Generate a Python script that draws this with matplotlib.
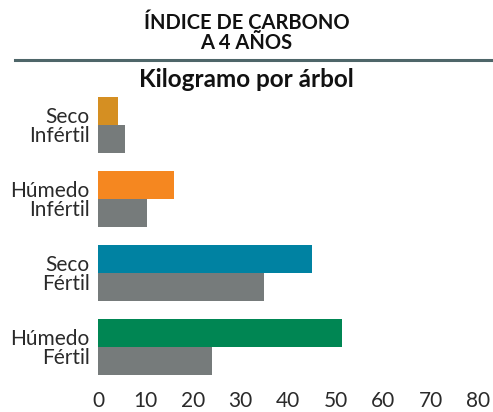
import matplotlib.pyplot as plt
import numpy as np

plt.rcParams["font.family"] = ["Lato", "DejaVu Sans"]

# Carbon index per tree after 4 years, by site condition
categories = ["Seco\nInfértil", "Húmedo\nInfértil", "Seco\nFértil", "Húmedo\nFértil"]
treated = [4.2, 16.0, 45.0, 51.4]
control = [5.7, 10.3, 34.9, 24.0]
bar_colors = ["#D58F22", "#F58720", "#0082A2", "#008653"]
gray = "#767B7B"
x_ticks = [0, 10, 20, 30, 40, 50, 60, 70, 80]

fig = plt.figure(figsize=(4.93, 4.12), dpi=100)
ax = fig.add_axes([0.1988, 0.068, 0.7708, 0.718])

y = np.arange(len(categories))
h = 0.38
ax.barh(y - h / 2, treated, height=h, color=bar_colors)
ax.barh(y + h / 2, control, height=h, color=gray)

ax.set_ylim(3.5, -0.5)
ax.set_xlim(0, 80)
ax.set_yticks(y)
ax.set_yticklabels(categories, fontsize=15, color="#2a2a2a", linespacing=0.95)
ax.set_xticks(x_ticks)
ax.set_xticklabels([str(t) for t in x_ticks], fontsize=15, color="#2a2a2a")
ax.tick_params(axis="both", length=0)
ax.tick_params(axis="y", pad=6)
ax.tick_params(axis="x", pad=5)
for s in ax.spines.values():
    s.set_visible(False)

# Header block
fig.text(0.5, 0.945, "ÍNDICE DE CARBONO", ha="center", va="center",
         fontsize=14.5, fontweight="bold", color="#111111")
fig.text(0.5, 0.895, "A 4 AÑOS", ha="center", va="center",
         fontsize=14.5, fontweight="bold", color="#111111")
fig.add_artist(plt.Line2D([0.03, 1.0], [0.855, 0.855], color="#4E6669", linewidth=2.2))
fig.text(0.5, 0.808, "Kilogramo por árbol", ha="center", va="center",
         fontsize=17.5, fontweight="bold", color="#111111")

fig.savefig("out.png", dpi=100)
